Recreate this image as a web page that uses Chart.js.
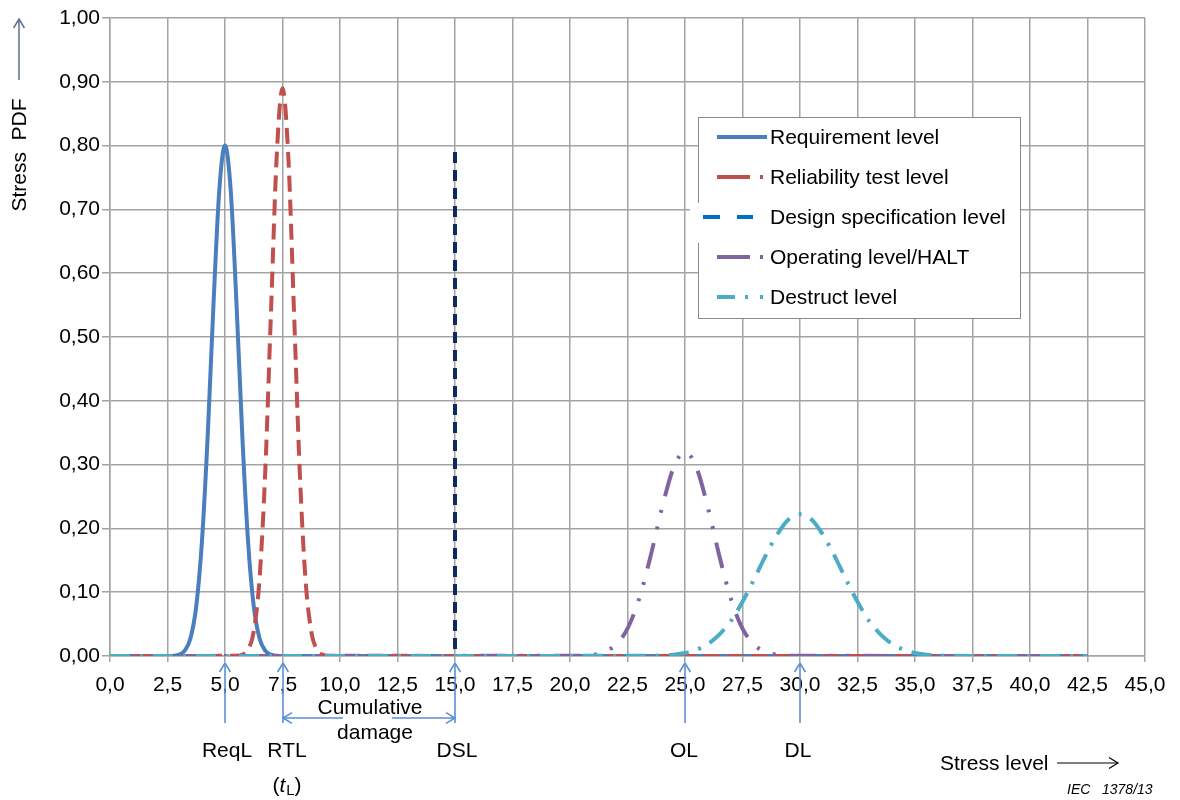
<!DOCTYPE html>
<html>
<head>
<meta charset="utf-8">
<script src="https://cdn.jsdelivr.net/npm/chart.js@4.4.1/dist/chart.umd.min.js"></script>
<style>
body{margin:0;background:#fff;}
#wrap{position:relative;width:1180px;height:800px;}
</style>
</head>
<body>
<div id="wrap"><canvas id="stressChart"></canvas></div>
<script>
// values (stress level -> PDF)
const reqX = [0, 2.5, 2.75, 3, 3.25, 3.5, 3.75, 4, 4.25, 4.5, 4.75, 5, 5.25, 5.5, 5.75, 6, 6.25, 6.5, 6.75, 7, 7.25, 7.5, 42.5];
const reqY = [0, 0, 0.0004, 0.0021, 0.0084, 0.028, 0.078, 0.181, 0.347, 0.552, 0.729, 0.80, 0.729, 0.552, 0.347, 0.181, 0.078, 0.028, 0.0084, 0.0021, 0.0004, 0, 0];

const rtlX = [0, 5.5, 5.75, 6, 6.25, 6.5, 6.75, 7, 7.25, 7.5, 7.75, 8, 8.25, 8.5, 8.75, 9, 9.25, 9.5, 42.5];
const rtlY = [0, 0.0003, 0.0019, 0.0099, 0.039, 0.120, 0.289, 0.540, 0.785, 0.89, 0.785, 0.540, 0.289, 0.120, 0.039, 0.0099, 0.0019, 0.0003, 0];

const dslX = [15, 15];
const dslY = [0.79, 0];

const olX = [0, 20.5, 21, 21.5, 22, 22.5, 23, 23.5, 24, 24.5, 25, 25.5, 26, 26.5, 27, 27.5, 28, 28.5, 29, 29.5, 42.5];
const olY = [0, 0.0005, 0.0019, 0.0063, 0.018, 0.043, 0.089, 0.156, 0.232, 0.295, 0.32, 0.295, 0.232, 0.156, 0.089, 0.043, 0.018, 0.0063, 0.0019, 0.0005, 0];

const dlX = [0, 23.5, 24, 24.5, 25, 25.5, 26, 26.5, 27, 27.5, 28, 28.5, 29, 29.5, 30, 30.5, 31, 31.5, 32, 32.5, 33, 33.5, 34, 34.5, 35, 35.5, 36, 36.5, 42.5];
const dlY = [0, 0.0003, 0.0009, 0.0021, 0.0047, 0.0098, 0.019, 0.034, 0.055, 0.085, 0.120, 0.157, 0.190, 0.214, 0.222, 0.214, 0.190, 0.157, 0.120, 0.085, 0.055, 0.034, 0.019, 0.0098, 0.0047, 0.0021, 0.0009, 0.0003, 0];

const xTickLabels = ['0,0','2,5','5,0','7,5','10,0','12,5','15,0','17,5','20,0','22,5','25,0','27,5','30,0','32,5','35,0','37,5','40,0','42,5','45,0'];
const yTickLabels = ['0,00','0,10','0,20','0,30','0,40','0,50','0,60','0,70','0,80','0,90','1,00'];

const seriesNames = ['Requirement level','Reliability test level','Design specification level','Operating level/HALT','Destruct level'];
const markerNames = ['ReqL','RTL','DSL','OL','DL'];
const markerX = [5, 7.5, 15, 25, 30];

const FONT = '"Liberation Sans", Arial, Helvetica, sans-serif';
const annoBlue = '#5b8fd3';

function pts(xs, ys) {
  return xs.map((x, i) => ({x: x, y: ys[i]}));
}

function chevron(ctx, x, y, dir, s) {
  ctx.beginPath();
  if (dir === 'up') { ctx.moveTo(x - s*0.6, y + s); ctx.lineTo(x, y); ctx.lineTo(x + s*0.6, y + s); }
  if (dir === 'left') { ctx.moveTo(x + s, y - s*0.6); ctx.lineTo(x, y); ctx.lineTo(x + s, y + s*0.6); }
  if (dir === 'right') { ctx.moveTo(x - s, y - s*0.6); ctx.lineTo(x, y); ctx.lineTo(x - s, y + s*0.6); }
  ctx.stroke();
}

function sample(ctx, x0, x1, y, color, dash) {
  ctx.save();
  ctx.strokeStyle = color;
  ctx.lineWidth = 4;
  ctx.setLineDash(dash);
  ctx.beginPath();
  ctx.moveTo(x0, y);
  ctx.lineTo(x1, y);
  ctx.stroke();
  ctx.restore();
}

const extras = {
  id: 'extras',
  afterDraw(chart) {
    const ctx = chart.ctx;
    const xs = chart.scales.x;
    ctx.save();

    // legend box
    ctx.fillStyle = '#fff';
    ctx.fillRect(698, 117, 322, 201);
    ctx.strokeStyle = '#8a8a8a';
    ctx.lineWidth = 1;
    ctx.strokeRect(698.5, 117.5, 322, 201);
    ctx.fillRect(690, 203, 30, 40);
    const legY = [137, 177, 217, 257, 297];
    sample(ctx, 717, 767, legY[0], '#4a7ebf', []);
    sample(ctx, 717, 767, legY[1], '#c0504d', [33, 10, 3, 100]);
    sample(ctx, 703, 753, legY[2], '#0070c0', [17, 17]);
    sample(ctx, 717, 767, legY[3], '#8064a2', [33, 10, 3, 100]);
    sample(ctx, 717, 767, legY[4], '#4bacc6', [18, 10, 3, 12, 3, 100]);
    ctx.fillStyle = '#000';
    ctx.font = '21px ' + FONT;
    ctx.textAlign = 'left';
    ctx.textBaseline = 'middle';
    seriesNames.forEach((n, i) => ctx.fillText(n, 770, legY[i] + 1));

    // y axis title with arrow
    ctx.save();
    ctx.translate(20, 155);
    ctx.rotate(-Math.PI / 2);
    ctx.textAlign = 'center';
    ctx.fillText('Stress  PDF', 0, 0);
    ctx.restore();
    ctx.strokeStyle = '#5d7190';
    ctx.lineWidth = 1.5;
    ctx.beginPath();
    ctx.moveTo(19, 80);
    ctx.lineTo(19, 19);
    ctx.stroke();
    chevron(ctx, 19, 19, 'up', 9);

    // marker arrows under the axis
    ctx.strokeStyle = annoBlue;
    ctx.lineWidth = 1.6;
    markerX.forEach((v) => {
      const px = Math.round(xs.getPixelForValue(v));
      ctx.beginPath();
      ctx.moveTo(px, 723);
      ctx.lineTo(px, 663);
      ctx.stroke();
      chevron(ctx, px, 663, 'up', 9);
    });
    // cumulative damage arrow
    const a = Math.round(xs.getPixelForValue(markerX[1]));
    const b = Math.round(xs.getPixelForValue(markerX[2]));
    ctx.beginPath();
    ctx.moveTo(a, 718); ctx.lineTo(343, 718);
    ctx.moveTo(392, 718); ctx.lineTo(b, 718);
    ctx.stroke();
    chevron(ctx, a, 718, 'left', 9);
    chevron(ctx, b, 718, 'right', 9);

    ctx.fillStyle = '#000';
    ctx.textAlign = 'center';
    ctx.font = '21px ' + FONT;
    ctx.fillText('Cumulative', 370, 708);
    ctx.fillText('damage', 375, 733);
    const labelX = [227, 287, 457, 684, 798];
    markerNames.forEach((n, i) => ctx.fillText(n, labelX[i], 751));

    // (tL)
    ctx.textAlign = 'left';
    ctx.font = '21px ' + FONT;
    const w1 = ctx.measureText('(').width, w4 = ctx.measureText(')').width;
    ctx.font = 'italic 21px ' + FONT;
    const w2 = ctx.measureText('t').width;
    ctx.font = '15px ' + FONT;
    const w3 = ctx.measureText('L').width;
    let tx = 287 - (w1 + w2 + w3 + w4 + 1) / 2;
    ctx.font = '21px ' + FONT;
    ctx.fillText('(', tx, 786); tx += w1;
    ctx.font = 'italic 21px ' + FONT;
    ctx.fillText('t', tx, 786); tx += w2 + 1;
    ctx.font = '15px ' + FONT;
    ctx.fillText('L', tx, 791); tx += w3;
    ctx.font = '21px ' + FONT;
    ctx.fillText(')', tx, 786);

    // stress level arrow
    ctx.fillText('Stress level', 940, 764);
    ctx.strokeStyle = '#000';
    ctx.lineWidth = 1.2;
    ctx.beginPath();
    ctx.moveTo(1057, 763);
    ctx.lineTo(1118, 763);
    ctx.stroke();
    chevron(ctx, 1118, 763, 'right', 9);

    ctx.font = 'italic 14px ' + FONT;
    ctx.fillText('IEC   1378/13', 1067, 790);
    ctx.restore();
  }
};

const ctx = document.getElementById('stressChart');
const stressChart = new Chart(ctx, {
  type: 'line',
  data: {
    datasets: [
      { label: seriesNames[0], data: pts(reqX, reqY), borderColor: '#4a7ebf', borderWidth: 4, order: 5 },
      { label: seriesNames[1], data: pts(rtlX, rtlY), borderColor: '#c0504d', borderWidth: 4, borderDash: [16, 8], order: 4 },
      { label: seriesNames[2], data: pts(dslX, dslY), borderColor: '#0b2a5e', borderWidth: 4, borderDash: [11, 7], cubicInterpolationMode: 'default', tension: 0, order: 0 },
      { label: seriesNames[3], data: pts(olX, olY), borderColor: '#8064a2', borderWidth: 4, borderDash: [26, 14, 3, 14, 3, 14], order: 3 },
      { label: seriesNames[4], data: pts(dlX, dlY), borderColor: '#4bacc6', borderWidth: 4, borderDash: [20, 10, 3, 10], order: 2 }
    ]
  },
  options: {
    responsive: true,
    maintainAspectRatio: false,
    animation: false,
    layout: { padding: { left: 0, top: 18, right: 35, bottom: 0 } },
    elements: {
      point: { radius: 0 },
      line: { cubicInterpolationMode: 'monotone', fill: false }
    },
    plugins: { legend: { display: false }, tooltip: { enabled: false } },
    scales: {
      x: {
        type: 'linear',
        min: 0,
        max: 45,
        afterFit: (s) => { s.height = 144; },
        grid: { color: '#a3a3a3', lineWidth: 1.5, tickLength: 6, tickColor: '#a3a3a3' },
        border: { color: '#a3a3a3', width: 1.5 },
        ticks: {
          stepSize: 2.5,
          autoSkip: false,
          maxRotation: 0,
          padding: 11,
          color: '#000',
          font: { family: FONT, size: 21 },
          callback: (v, i) => xTickLabels[i]
        }
      },
      y: {
        min: 0,
        max: 1,
        afterFit: (s) => { s.width = 110; },
        grid: { color: '#a3a3a3', lineWidth: 1.5, tickLength: 8, tickColor: '#a3a3a3' },
        border: { color: '#a3a3a3', width: 1.5 },
        ticks: {
          stepSize: 0.1,
          padding: 2,
          color: '#000',
          font: { family: FONT, size: 21 },
          callback: (v, i) => yTickLabels[i]
        }
      }
    }
  },
  plugins: [extras]
});
</script>
</body>
</html>
